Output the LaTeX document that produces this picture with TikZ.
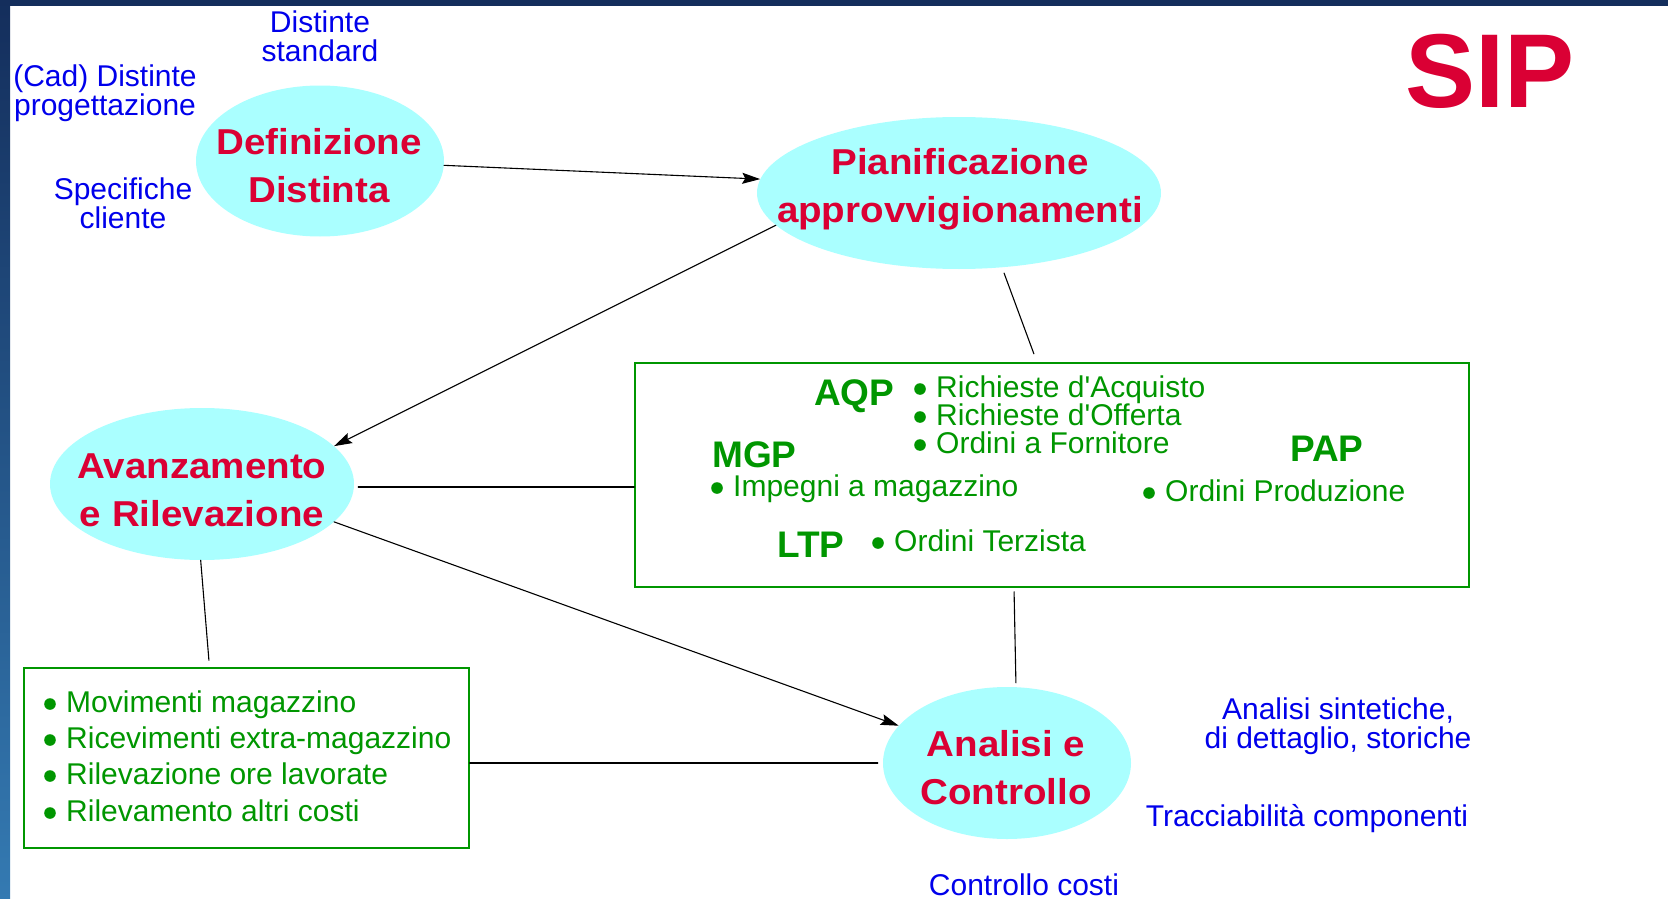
\documentclass[tikz,border=0pt]{standalone}
\usepackage{fontspec}
\setmainfont{Liberation Sans}
\newfontfamily\procfont[FakeStretch=1.07]{Liberation Sans}
\usetikzlibrary{shapes.geometric,arrows.meta}

\definecolor{sipred}{RGB}{218,0,52}
\definecolor{proccyan}{RGB}{170,255,255}
\definecolor{listgreen}{RGB}{0,150,0}
\definecolor{noteblue}{RGB}{0,0,235}
\definecolor{framenavy}{RGB}{20,46,92}
\definecolor{framelight}{RGB}{52,122,178}

\begin{document}
\begin{tikzpicture}[x=1pt, y=-1pt, >={Stealth[length=18pt,width=11pt,inset=3pt]}, line cap=round,
  proc/.style={ellipse, fill=proccyan, inner sep=0pt},
  proctext/.style={text=sipred, align=center, inner sep=0pt,
    font=\procfont\bfseries\fontsize{36}{48}\selectfont},
  listbox/.style={draw=listgreen, line width=1.5pt, inner sep=0pt},
  note/.style={text=noteblue, align=center, inner sep=0pt, font=\fontsize{30}{29}\selectfont},
  code/.style={text=listgreen, anchor=base west, inner sep=0pt, font=\bfseries\fontsize{37}{40}\selectfont},
  item/.style={text=listgreen, anchor=base west, inner sep=0pt, font=\fontsize{30}{30}\selectfont},
  link/.style={black, line width=1.1pt}]

\useasboundingbox (0,0) rectangle (1668,899);

% --- slide frame ---
\shade[top color=framenavy, bottom color=framelight] (0,0) rectangle (10,899);
\fill[framenavy] (0,0) rectangle (1668,6);

% --- title ---
\node[text=sipred, anchor=base, inner sep=0pt, font=\bfseries\fontsize{105}{105}\selectfont]
  (sip) at (1490,107) {SIP};

% --- a small macro for list entries: dot + green text ---
\newcommand{\listitem}[4]{%
  % name, x of text, baseline y, text
  \fill[listgreen] (#2-16,#3-8) circle (5.8pt);
  \node[item] (#1) at (#2,#3) {#4};
}

% --- process ellipses ---
\node[proc, minimum width=248pt, minimum height=151pt] (defdist) at (320,161) {};
\node[proctext] (defdist-t) at (319,166) {Definizione\\Distinta};

\node[proc, minimum width=404pt, minimum height=152pt] (pianif) at (959,193) {};
\node[proctext] (pianif-t) at (960,189) {Pianificazione\\approvvigionamenti};

\node[proc, minimum width=304pt, minimum height=152pt] (avanz) at (202,484) {};
\node[proctext] (avanz-t) at (202,490) {Avanzamento\\e Rilevazione};

\node[proc, minimum width=248pt, minimum height=152pt] (analisi) at (1007,763) {};
\node[proctext] (analisi-t) at (1006,768) {Analisi e\\Controllo};

% --- blue notes ---
\node[note] (dstd) at (320,36.5) {Distinte\\standard};
\node[note] (dcad) at (105,93) {(Cad) Distinte\\progettazione};
\node[note] (spec) at (123,203) {Specifiche\\cliente};
\node[note] (ansint) at (1338,726) {Analisi sintetiche,\\di dettaglio, storiche};
\node[note] (tracc) at (1307,819) {Tracciabilità componenti};
\node[note] (ctrcost) at (1024,885) {Controllo costi};

% --- planning box ---
\node[listbox, minimum width=834pt, minimum height=224pt] (aqpbox) at (1052,475) {};
\node[code] (aqp) at (814,405) {AQP};
\node[code] (mgp) at (712,467) {MGP};
\node[code] (pap) at (1290,461) {PAP};
\node[code] (ltp) at (777,557) {LTP};
\listitem{racq}{936}{397}{Richieste d\textquotesingle Acquisto}
\listitem{roff}{936}{425}{Richieste d\textquotesingle Offerta}
\listitem{oforn}{936}{453}{Ordini a Fornitore}
\listitem{impmag}{733}{496}{Impegni a magazzino}
\listitem{oprod}{1165}{501}{Ordini Produzione}
\listitem{oterz}{894}{551}{Ordini Terzista}

% --- recording box ---
\node[listbox, minimum width=445pt, minimum height=180pt] (lowbox) at (246.5,758) {};
\listitem{movmag}{66}{712}{Movimenti magazzino}
\listitem{ricext}{66}{748}{Ricevimenti extra-magazzino}
\listitem{rilore}{66}{784}{Rilevazione ore lavorate}
\listitem{rilcos}{66}{821}{Rilevamento altri costi}

% --- connectors ---
\draw[link, ->] (defdist.-2) -- (pianif.176);
\draw[link, ->] (pianif.190) -- (avanz.16);
\draw[link, ->] (avanz.-16) -- (analisi.161);

\draw[link, shorten <=6pt, shorten >=9pt] (pianif.-60) -- ([xshift=-15pt]aqpbox.north);
\coordinate (avtap) at ([yshift=-12pt]aqpbox.west);
\draw[link, shorten <=4pt] (avanz.east |- avtap) -- (avtap);
\draw[link, shorten >=7pt] (avanz.-91) -- ([xshift=-37pt]lowbox.north);
\draw[link, shorten >=5pt] (lowbox.east |- analisi.west) -- (analisi.west);
\draw[link, shorten <=4pt, shorten >=4pt] ([xshift=-38pt]aqpbox.south) -- ([xshift=9pt]analisi.north);

\end{tikzpicture}
\end{document}
